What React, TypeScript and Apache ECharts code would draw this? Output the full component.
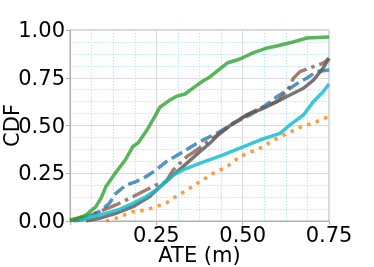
import React, { useEffect, useRef } from "react";
import * as echarts from "echarts";

const xTicks = [0.25, 0.5, 0.75];
const yTicks = [0, 0.25, 0.5, 0.75, 1.0];

const greenErr = [0, 0.046, 0.075, 0.09, 0.104, 0.133, 0.162, 0.182, 0.197, 0.223, 0.24, 0.261, 0.29, 0.31, 0.333, 0.356, 0.385, 0.405, 0.455, 0.492, 0.53, 0.571, 0.599, 0.646, 0.686, 0.75];
const greenCdf = [0, 0.031, 0.075, 0.12, 0.18, 0.255, 0.325, 0.39, 0.408, 0.476, 0.529, 0.597, 0.634, 0.654, 0.665, 0.696, 0.733, 0.754, 0.827, 0.848, 0.88, 0.906, 0.916, 0.937, 0.958, 0.963];

const blueErr = [0.01, 0.027, 0.085, 0.114, 0.133, 0.162, 0.191, 0.22, 0.249, 0.278, 0.319, 0.376, 0.434, 0.483, 0.521, 0.56, 0.599, 0.637, 0.666, 0.685, 0.714, 0.75];
const blueCdf = [0, 0.005, 0.049, 0.093, 0.145, 0.188, 0.206, 0.232, 0.267, 0.31, 0.354, 0.415, 0.468, 0.52, 0.555, 0.598, 0.651, 0.695, 0.729, 0.747, 0.782, 0.79];

const brownErr = [0, 0.046, 0.085, 0.133, 0.182, 0.22, 0.249, 0.278, 0.299, 0.338, 0.367, 0.405, 0.434, 0.473, 0.521, 0.56, 0.599, 0.628, 0.647, 0.666, 0.705, 0.733, 0.75];
const brownCdf = [0.005, 0.023, 0.049, 0.084, 0.127, 0.162, 0.188, 0.206, 0.267, 0.337, 0.372, 0.424, 0.459, 0.512, 0.564, 0.598, 0.625, 0.677, 0.747, 0.782, 0.808, 0.826, 0.852];

const grayErr = [0.046, 0.085, 0.133, 0.182, 0.23, 0.261, 0.299, 0.338, 0.376, 0.405, 0.434, 0.473, 0.512, 0.56, 0.599, 0.637, 0.676, 0.705, 0.733, 0.75];
const grayCdf = [0, 0.014, 0.04, 0.075, 0.127, 0.18, 0.241, 0.302, 0.363, 0.407, 0.459, 0.512, 0.555, 0.59, 0.625, 0.66, 0.695, 0.738, 0.8, 0.852];

const cyanErr = [0.027, 0.066, 0.104, 0.143, 0.182, 0.22, 0.249, 0.278, 0.299, 0.338, 0.379, 0.434, 0.492, 0.55, 0.608, 0.637, 0.676, 0.705, 0.733, 0.75];
const cyanCdf = [0.002, 0.023, 0.04, 0.061, 0.093, 0.127, 0.162, 0.206, 0.241, 0.276, 0.304, 0.34, 0.381, 0.424, 0.459, 0.503, 0.555, 0.625, 0.677, 0.717];

const orangeErr = [0.104, 0.133, 0.182, 0.22, 0.249, 0.278, 0.299, 0.338, 0.376, 0.415, 0.454, 0.492, 0.55, 0.608, 0.666, 0.714, 0.75];
const orangeCdf = [0, 0.014, 0.049, 0.058, 0.075, 0.093, 0.119, 0.162, 0.206, 0.25, 0.284, 0.337, 0.381, 0.441, 0.49, 0.52, 0.547];

const zip = (xs: number[], ys: number[]) => xs.map((x, i) => [x, ys[i]]);

const FONT = "DejaVu Sans";
const FS = 21;
const LW = 3.5;

export default function App() {
  const ref = useRef<HTMLDivElement>(null);
  useEffect(() => {
    const chart = echarts.init(ref.current!, null, { renderer: "svg" });
    const line = (name: string, xs: number[], ys: number[], color: string, type: any, z: number, op = 0.78) => ({
      name,
      type: "line",
      data: zip(xs, ys),
      showSymbol: false,
      symbol: "none",
      z,
      lineStyle: { color, width: LW, type, opacity: op, cap: "butt", join: "round" },
    });
    chart.setOption({
      animation: false,
      grid: {
        left: 70, top: 30, right: 45, bottom: 46,
        containLabel: false,
        outerBoundsMode: "none",
        show: true, borderColor: "#b0b0b0", borderWidth: 1, backgroundColor: "transparent",
      },
      xAxis: {
        type: "value",
        min: 0,
        max: 0.75,
        interval: 0.25,
        name: "ATE (m)",
        nameLocation: "middle",
        nameGap: 23,
        nameMoveOverlap: false,
        nameTextStyle: { fontFamily: FONT, fontSize: FS, color: "#000" },
        axisLine: { show: true, lineStyle: { color: "#b0b0b0", width: 1 } },
        axisTick: { show: true, length: 4, lineStyle: { color: "#b0b0b0" } },
        axisLabel: {
          fontFamily: FONT,
          fontSize: FS,
          color: "#000",
          margin: 3,
          hideOverlap: false,
          formatter: (v: number) => (xTicks.some((t) => Math.abs(t - v) < 1e-9) ? v.toFixed(2) : ""),
        },
        splitLine: { show: true, lineStyle: { color: "#dcdcdc", width: 1.2 } },
        minorTick: { show: false, splitNumber: 4 },
        minorSplitLine: { show: true, lineStyle: { color: "#b5e9f6", width: 1, type: [1.5, 1.5] } },
      },
      yAxis: {
        type: "value",
        min: 0,
        max: 1,
        interval: 0.25,
        name: "CDF",
        nameLocation: "middle",
        nameGap: 48,
        nameMoveOverlap: false,
        nameTextStyle: { fontFamily: FONT, fontSize: FS, color: "#000" },
        axisLine: { show: true, lineStyle: { color: "#b0b0b0", width: 1 } },
        axisTick: { show: true, length: 4, lineStyle: { color: "#b0b0b0" } },
        axisLabel: {
          fontFamily: FONT,
          fontSize: FS,
          color: "#000",
          margin: 5,
          hideOverlap: false,
          formatter: (v: number) => (yTicks.some((t) => Math.abs(t - v) < 1e-9) ? v.toFixed(2) : ""),
        },
        splitLine: { show: true, lineStyle: { color: "#dcdcdc", width: 1.2 } },
        minorTick: { show: false, splitNumber: 4 },
        minorSplitLine: { show: true, lineStyle: { color: "#b5e9f6", width: 1, type: [1.5, 1.5] } },
      },
      series: [
        line("blue", blueErr, blueCdf, "#1f77b4", [12, 5], 2),
        line("brown", brownErr, brownCdf, "#8c564b", [20, 5, 3.5, 5], 3),
        line("gray", grayErr, grayCdf, "#5f5f5f", "solid", 4, 0.85),
        line("cyan", cyanErr, cyanCdf, "#17becf", "solid", 5, 0.85),
        line("orange", orangeErr, orangeCdf, "#ff7f0e", [3.5, 5.5], 6),
        line("green", greenErr, greenCdf, "#2ca02c", "solid", 7),
      ],
    });
    return () => chart.dispose();
  }, []);
  return <div ref={ref} style={{ position: "fixed", left: 0, top: 0, width: 374, height: 267 }} />;
}
